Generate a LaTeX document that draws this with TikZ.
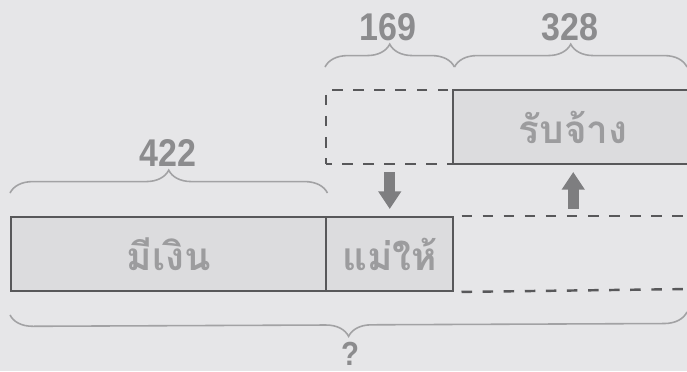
\documentclass[tikz,border=0pt]{standalone}
\usepackage{fontspec}
\usepackage{tikz}
\usetikzlibrary{arrows.meta,decorations.pathreplacing}
\newfontfamily\thaifont[Script=Thai]{Loma}
\newfontfamily\numfont[FakeStretch=0.88]{Liberation Sans}
\definecolor{bgc}{HTML}{E6E6E8}
\definecolor{boxc}{HTML}{DCDCDE}
\definecolor{linec}{HTML}{58585A}
\definecolor{txtc}{HTML}{9C9C9E}
\definecolor{numc}{HTML}{8C8C8E}
\definecolor{brc}{HTML}{A2A2A4}
\definecolor{arrc}{HTML}{7E7E80}
\tikzset{
  bar/.style={draw=linec, line width=1.4pt, fill=boxc, anchor=north west, inner sep=0pt,
    minimum height=14.7mm, text=txtc, font=\thaifont\bfseries\fontsize{22}{24}\selectfont},
  gapbox/.style={draw=linec, line width=1.4pt, dash pattern=on 6pt off 6pt, dash phase=3pt, anchor=north west,
    inner sep=0pt, minimum width=25.4mm, minimum height=14.7mm},
  dashline/.style={draw=linec, line width=1.4pt, dash pattern=on 6pt off 6pt, dash phase=-4pt},
  brace/.style={draw=brc, line width=0.9pt, decorate, decoration={brace, amplitude=13pt}},
  num/.style={text=numc, font=\numfont\bfseries\fontsize{22}{24}\selectfont},
  fatarrow/.style={draw=arrc, line width=6.2pt, -{Triangle[width=12.5pt,length=10pt]}, shorten <=4pt, shorten >=4pt}
}

\begin{document}
\begin{tikzpicture}[x=0.2mm,y=-0.2mm]
\fill[bgc, use as bounding box] (0,0) rectangle (687,371);
\clip (0,0) rectangle (687,371);
% bottom bar
\node[bar, minimum width=63mm] (have) at (10,216) {มีเงิน};
\node[bar, minimum width=25.4mm] (mom) at (325,216) {แม่ให้};
\coordinate (endT) at (692,216);
\coordinate (endB) at (692,289);
\draw[dashline] (mom.north east) -- (endT);
\draw[dashline] (mom.south east) -- (endB);
% top row
\node[gapbox] (gap) at (325,89) {};
\node[bar, minimum width=48mm] (work) at (452,89) {รับจ้าง};
% arrows
\draw[fatarrow] (gap.south) -- (mom.north);
\draw[fatarrow] (work.south |- endT) -- (work.south);
% braces
\draw[brace] ([yshift=4.6mm]have.north west) -- ([yshift=4.6mm]have.north east);
\node[num] (n422) at (168,153) {422};
\draw[brace] ([yshift=4.4mm]gap.north west) -- ([yshift=4.4mm]gap.north east);
\node[num] (n169) at (388,27) {169};
\coordinate (workR) at (687,67);
\draw[brace] ([yshift=4.4mm]gap.north east) -- (workR);
\node[num] (n328) at (570,27) {328};
\coordinate (allR) at (687,312);
\draw[brace, decoration={mirror}] ([yshift=-4.6mm]have.south west) -- (allR);
\node[num, font=\numfont\bfseries\fontsize{19}{20}\selectfont, inner sep=0pt, text depth=0pt] (ask) at (350,354) {?};
\end{tikzpicture}
\end{document}
